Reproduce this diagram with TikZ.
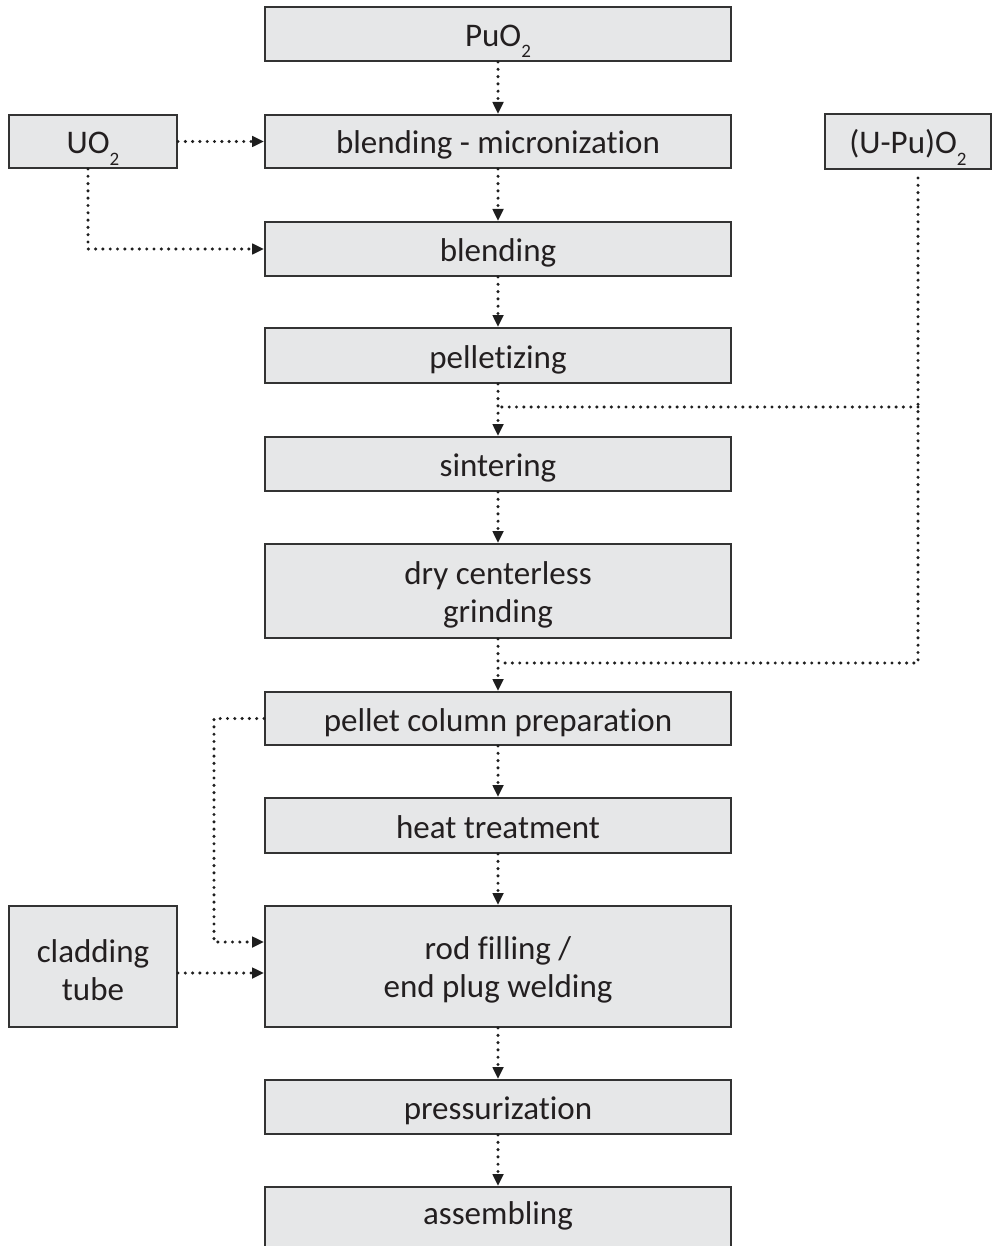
\documentclass[tikz,border=0pt]{standalone}
\usepackage{fontspec}
\setmainfont{Carlito}[Ligatures={NoCommon,NoContextual}]
\usetikzlibrary{arrows.meta}
\definecolor{boxfill}{HTML}{E6E7E8}
\definecolor{boxline}{HTML}{333333}
\definecolor{boxtext}{HTML}{231F20}
\definecolor{flowcol}{HTML}{1E1E1E}
\newcommand{\oxsub}[1]{\smash{\raisebox{-0.34em}{\fontsize{19}{19}\selectfont #1}}}
\newcommand{\firstline}{\rule{0pt}{30pt}}
\tikzset{
  stepbox/.style={draw=boxline, line width=2pt, fill=boxfill, inner sep=0pt,
    text=boxtext, align=center, font=\fontsize{33}{38}\selectfont},
  oneline/.style={stepbox, text height=25pt, text depth=0pt},
  flow/.style={draw=flowcol, line width=3.4pt, line cap=round,
    dash pattern=on 0pt off 7.3pt},
  flowarrow/.style={flow, -{Triangle[length=12pt,width=10.5pt]}},
}
\begin{document}
\begin{tikzpicture}[x=1pt,y=-1pt]
\useasboundingbox (0,0) rectangle (993,1246);
\clip (0,0) rectangle (993,1246);
% main process column
\node[oneline, minimum width=466, minimum height=54] (puo2) at (498,34) {PuO\oxsub{2}};
\node[oneline, minimum width=466, minimum height=53] (blm) at (498,141.5) {blending - micronization};
\node[oneline, minimum width=466, minimum height=54] (blend) at (498,249) {blending};
\node[oneline, minimum width=466, minimum height=55] (pellet) at (498,355.5) {pelletizing};
\node[oneline, minimum width=466, minimum height=54] (sinter) at (498,464) {sintering};
\node[stepbox, minimum width=466, minimum height=94] (grind) at (498,591) {\firstline dry centerless\\grinding};
\node[oneline, minimum width=466, minimum height=53] (column) at (498,718.5) {pellet column preparation};
\node[oneline, minimum width=466, minimum height=55] (heat) at (498,825.5) {heat treatment};
\node[stepbox, minimum width=466, minimum height=121] (rod) at (498,966.5) {\firstline rod filling /\\end plug welding};
\node[oneline, minimum width=466, minimum height=54] (press) at (498,1107) {pressurization};
% last box runs past the lower edge
\node[stepbox, text height=10pt, text depth=16pt, minimum width=466, minimum height=80] (assem) at (498,1227) {assembling};
% side inputs
\node[oneline, minimum width=168, minimum height=53] (uo2) at (93,141.5) {UO\oxsub{2}};
\node[oneline, minimum width=166, minimum height=55] (upu) at (908,141.5) {(U-Pu)O\oxsub{2}};
\node[stepbox, minimum width=168, minimum height=121] (clad) at (93,966.5) {\firstline cladding\\tube};
% junction points
\coordinate (j1) at (498,407);
\coordinate (j2) at (498,663);
\coordinate (u1) at (918,407);
\coordinate (u2) at (918,663);
\coordinate (c1) at (214,942);
% main flow
\draw[flowarrow] (puo2) -- (blm);
\draw[flowarrow] (blm) -- (blend);
\draw[flowarrow] (blend) -- (pellet);
\draw[flowarrow] (pellet) -- (sinter);
\draw[flowarrow] (sinter) -- (grind);
\draw[flowarrow] (grind) -- (column);
\draw[flowarrow] (column) -- (heat);
\draw[flowarrow] (heat) -- (rod);
\draw[flowarrow] (rod) -- (press);
\draw[flowarrow] (press) -- (assem);
% UO2 feeds
\draw[flowarrow] (uo2) -- (blm);
\draw[flowarrow] ([xshift=-5pt]uo2.south) |- (blend.west);
% (U-Pu)O2 feeds
\draw[flow] ([xshift=10pt,yshift=-8pt]upu.south) -- (u2) -- (j2);
\draw[flow] (u1) -- (j1);
% pellet column to rod filling
\draw[flowarrow] (column.west) -| (c1) -- (c1 -| rod.west);
\draw[flowarrow] ([yshift=-6.5pt]clad.east) -- ([yshift=-6.5pt]rod.west);
\end{tikzpicture}
\end{document}
